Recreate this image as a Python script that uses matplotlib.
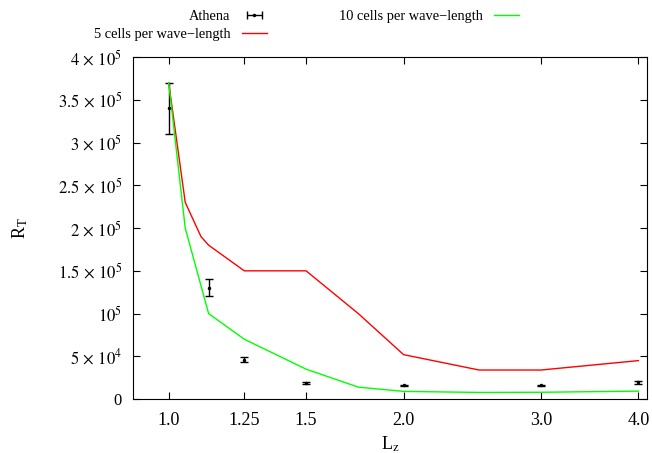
import numpy as np
import matplotlib
matplotlib.use("Agg")
import matplotlib.pyplot as plt
from matplotlib.ticker import FixedLocator, FixedFormatter, NullLocator

plt.rcParams["font.family"] = ["Liberation Serif", "DejaVu Serif"]
plt.rcParams["mathtext.fontset"] = "stix"
plt.rcParams["font.size"] = 10

# Athena measurements with error bars
athena_x = [1.0, 1.125, 1.25, 1.5, 2.0, 3.0, 4.0]
athena_y = [3.4e5, 1.3e5, 4.6e4, 1.9e4, 1.6e4, 1.6e4, 1.95e4]
athena_err = [3.0e4, 1.0e4, 3.0e3, 1.5e3, 1.0e3, 1.0e3, 1.5e3]

# 5 cells per wave-length
five_x = [1.0, 1.05, 1.1, 1.125, 1.25, 1.5, 1.75, 2.0, 2.5, 3.0, 4.0]
five_y = [3.7e5, 2.3e5, 1.9e5, 1.8e5, 1.5e5, 1.5e5, 1.0e5, 5.2e4, 3.4e4, 3.4e4, 4.5e4]

# 10 cells per wave-length
ten_x = [1.0, 1.05, 1.125, 1.25, 1.5, 1.75, 2.0, 2.5, 3.0, 4.0]
ten_y = [3.7e5, 2.0e5, 1.0e5, 7.0e4, 3.5e4, 1.4e4, 9.0e3, 7.8e3, 8.0e3, 9.3e3]

xticks = [1.0, 1.25, 1.5, 2.0, 3.0, 4.0]
xtick_labels = ["1.0", "1.25", "1.5", "2.0", "3.0", "4.0"]
yticks = [0, 5e4, 1e5, 1.5e5, 2e5, 2.5e5, 3e5, 3.5e5, 4e5]
ytick_labels = ["0", r"$5\,\times\,10^{4}$", r"$10^{5}$", r"$1.5\,\times\,10^{5}$",
                r"$2\,\times\,10^{5}$", r"$2.5\,\times\,10^{5}$", r"$3\,\times\,10^{5}$",
                r"$3.5\,\times\,10^{5}$", r"$4\,\times\,10^{5}$"]

fig = plt.figure(figsize=(6.52, 4.53), dpi=100)
ax = fig.add_axes([0.204, 0.119, 0.788, 0.755])

ax.errorbar(athena_x, athena_y, yerr=athena_err, fmt=".", color="black",
            markersize=3, elinewidth=1.0, capsize=3, capthick=1.0)
l5, = ax.plot(five_x, five_y, color="#ff0000", lw=1.0)
l10, = ax.plot(ten_x, ten_y, color="#00ff00", lw=1.0)

# proxy so the legend shows a horizontal error bar like gnuplot
proxy = ax.errorbar([np.nan], [np.nan], xerr=[1.0], fmt=".", color="black",
                    markersize=3, elinewidth=1.0, capsize=3, capthick=1.0)

ax.set_xscale("log")
ax.set_xlim(0.9, 4.1)
ax.set_ylim(0, 4e5)
ax.xaxis.set_major_locator(FixedLocator(xticks))
ax.xaxis.set_major_formatter(FixedFormatter(xtick_labels))
ax.xaxis.set_minor_locator(NullLocator())
ax.yaxis.set_major_locator(FixedLocator(yticks))
ax.yaxis.set_major_formatter(FixedFormatter(ytick_labels))
ax.tick_params(direction="in", length=5, width=0.8, top=True, right=True)
ax.tick_params(axis="y", pad=8, labelsize=12)
ax.tick_params(axis="x", pad=9, labelsize=13)

ax.set_xlabel(r"L$_\mathrm{z}$", fontsize=13, labelpad=4)
ax.set_ylabel(r"R$_\mathrm{T}$", fontsize=13, labelpad=20)

fig.legend([proxy, l5, l10],
           ["Athena", "5 cells per wave\u2212length", "10 cells per wave\u2212length"],
           ncol=2, markerfirst=False, frameon=False, loc="upper center",
           bbox_to_anchor=(0.47, 1.0), handlelength=1.7, columnspacing=5.0,
           labelspacing=0.3, handletextpad=0.8, borderpad=0.2, fontsize=10.4)

fig.savefig("out.png", dpi=100)
